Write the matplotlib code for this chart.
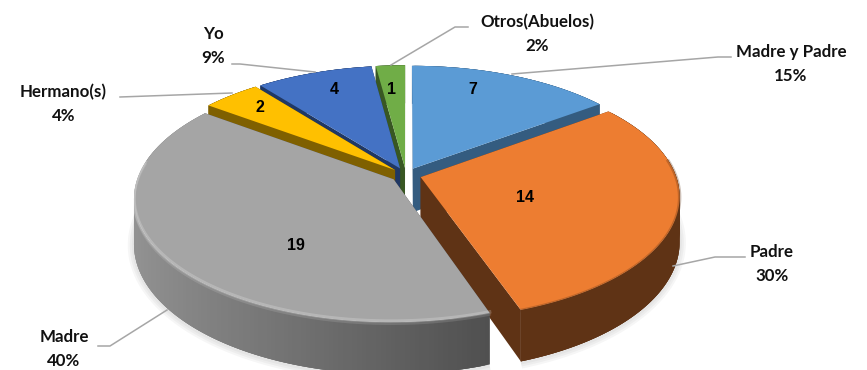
import numpy as np
import matplotlib
matplotlib.use("Agg")
import matplotlib.pyplot as plt
from matplotlib.patches import Polygon
from matplotlib.colors import to_rgb

categorias = ["Madre y Padre", "Padre", "Madre", "Hermano(s)", "Yo", "Otros(Abuelos)"]
valores = [7, 14, 19, 2, 4, 1]
porcentajes = ["15%", "30%", "40%", "4%", "9%", "2%"]

colores = ["#5B9BD5", "#ED7D31", "#A5A5A5", "#FFC000", "#4472C4", "#70AD47"]
pared_clara = ["#345C80", "#5F3315", "#929292", "#7F6000", "#203864", "#385723"]
pared_oscura = ["#345C80", "#5F3315", "#4F4F4F", "#7F6000", "#203864", "#385723"]

# perspectiva del disco (en pixeles)
CX, CY = 406, 175
RX, RY, ALTO = 255, 120, 44
K = 0.15
EXPLOSION = 0.06


def proyectar(u, v, z=0.0):
    w = 1 + K * v
    return CX + RX * u / w, CY - RY * v / w + ALTO * z / w


def mezclar(c1, c2, t):
    a, b = np.array(to_rgb(c1)), np.array(to_rgb(c2))
    return tuple(a + (b - a) * t)


fig = plt.figure(figsize=(8.67, 3.7), dpi=100)
ax = fig.add_axes([0, 0, 1, 1])
ax.set_xlim(0, 867)
ax.set_ylim(370, 0)
ax.axis("off")

total = sum(valores)
limites = np.cumsum([0] + valores) / total * 2 * np.pi
orden = [5, 4, 3, 0, 1, 2]  # de atras hacia delante

for i in orden:
    a0, a1 = limites[i], limites[i + 1]
    medio = (a0 + a1) / 2
    ou, ov = EXPLOSION * np.sin(medio), EXPLOSION * np.cos(medio)
    t = np.linspace(a0, a1, 160)
    u, v = ou + np.sin(t), ov + np.cos(t)

    # sombra suave debajo del disco
    if i in (1, 2):
        sx, sy = proyectar(u, v, 1)
        for ancho in (9, 6, 3):
            ax.plot(sx, sy + 1, color="#808080", lw=ancho, alpha=0.07,
                    solid_capstyle="butt", zorder=2)

    # paredes radiales
    for ang in (a0, a1):
        tx, ty = proyectar(ou + np.sin(ang), ov + np.cos(ang))
        bx, by = proyectar(ou + np.sin(ang), ov + np.cos(ang), 1)
        x0, y0 = proyectar(ou, ov)
        x1, y1 = proyectar(ou, ov, 1)
        ax.add_patch(Polygon([(x0, y0), (tx, ty), (bx, by), (x1, y1)],
                             fc=pared_oscura[i], ec="none", zorder=3))

    # pared exterior con degradado, cada tramo pisa al siguiente para evitar rayas
    for j in range(len(t) - 1):
        fin = min(j + 4, len(t))
        xa, ya = proyectar(u[j:fin], v[j:fin])
        xb, yb = proyectar(u[j:fin], v[j:fin], 1)
        f = np.clip((np.sin(t[j]) + 0.95) / 1.3, 0, 1)
        c = mezclar(pared_clara[i], pared_oscura[i], f)
        ax.add_patch(Polygon(np.column_stack([np.r_[xa, xb[::-1]], np.r_[ya, yb[::-1]]]),
                             fc=c, ec="none", zorder=3))

    # cara superior
    px, py = proyectar(u, v)
    x0, y0 = proyectar(ou, ov)
    ax.add_patch(Polygon(np.column_stack([np.r_[x0, px], np.r_[y0, py]]),
                         fc=colores[i], ec="none", zorder=3))

    # bisel del borde, solo en la parte delantera
    delante = np.cos(t) < 0.15
    if i == 2:
        ax.plot(px[delante], py[delante] - 1, color="white", lw=2.5, alpha=0.2, zorder=3)
        ax.plot(px[delante], py[delante] + 1.5, color="white", lw=2, alpha=0.12, zorder=3)
    if i == 1:
        ax.plot(px[delante], py[delante] + 0.5, color=pared_oscura[i], lw=2.5, alpha=0.3, zorder=3)

# valores dentro de cada sector
pos_valores = [(473, 89), (525, 198), (296, 246), (260, 108), (334, 90), (392, 90)]
for i, (x, y) in enumerate(pos_valores):
    ax.text(x, y, str(valores[i]), family="Liberation Sans", weight="bold",
            fontsize=11.5, ha="center", va="center", color="black", zorder=6)

# etiquetas y lineas guia
etiquetas = [(791, 64), (772, 264), (64, 349), (63.5, 104), (213, 46), (537.5, 34)]
guias = [
    [(731, 57), (718, 57), (512, 74)],
    [(745, 257), (715, 257), (673, 266)],
    [(98, 346), (110, 346), (167, 310)],
    [(120, 97), (232, 93)],
    [(232, 64), (240, 64), (315, 72)],
    [(468, 27), (455, 27), (391, 65)],
]
for i, (x, y) in enumerate(etiquetas):
    ax.text(x, y, categorias[i] + "\n" + porcentajes[i], family="Lato", weight="bold",
            fontsize=12.2, ha="center", va="center", linespacing=1.65,
            color="#111111", zorder=7)
    gx, gy = zip(*guias[i])
    ax.plot(gx, gy, color="#A6A6A6", lw=1.1, zorder=5)

fig.savefig("out.png", dpi=100)
